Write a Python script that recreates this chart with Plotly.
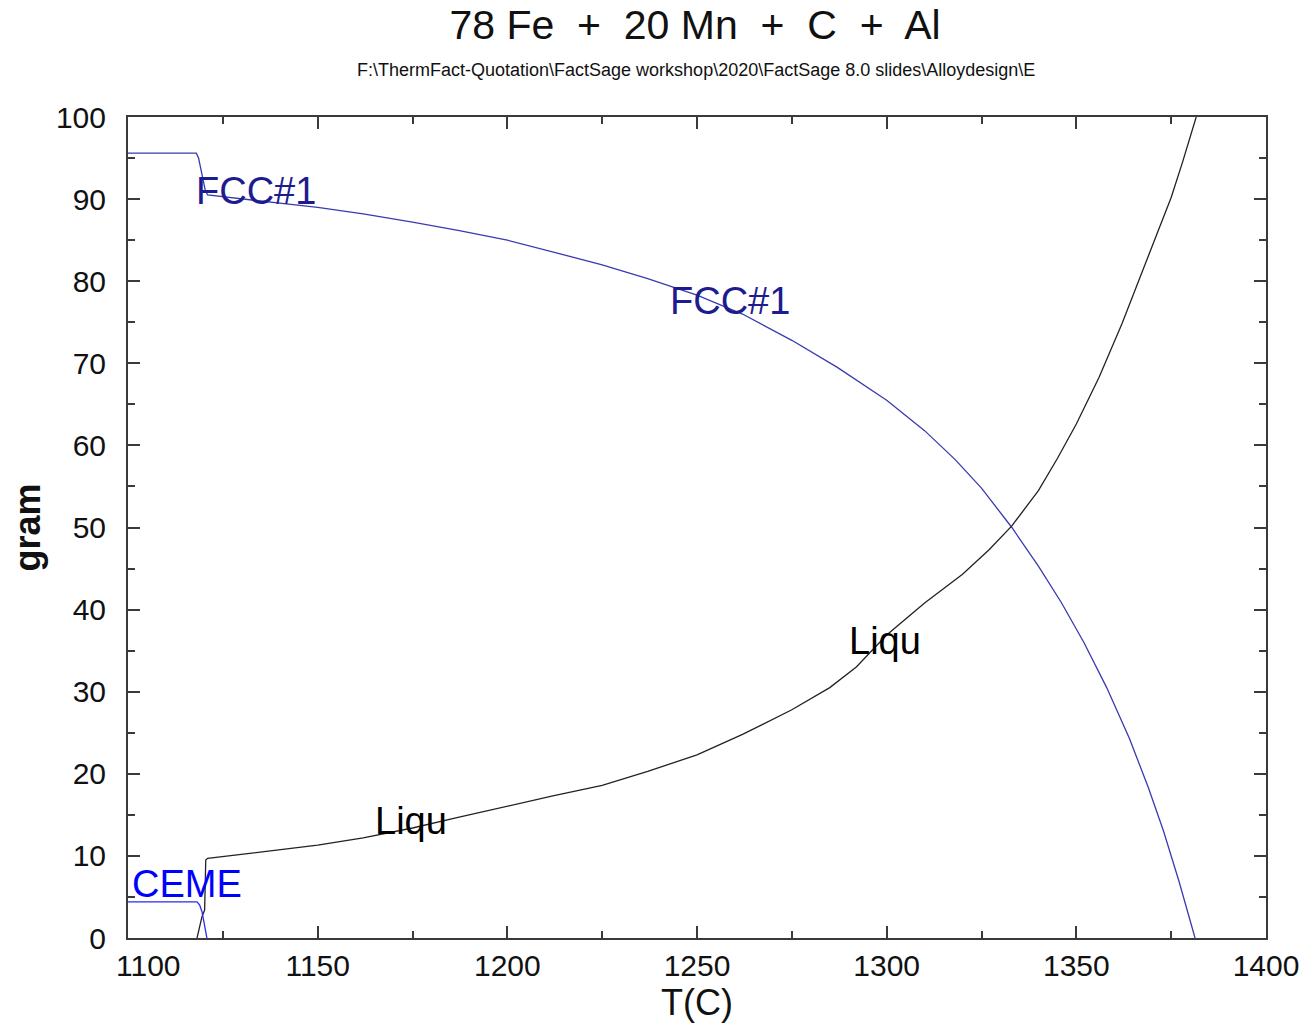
import plotly.graph_objects as go

# ---- data ----
fcc_T = [1100, 1118.0, 1118.6, 1119.2, 1119.8, 1120.4, 1121, 1130, 1140, 1150, 1162, 1175,
         1187, 1200, 1212, 1225, 1237, 1250, 1262, 1275, 1287, 1300, 1310, 1318, 1325,
         1333, 1340, 1346, 1352, 1358, 1364, 1369, 1373, 1377, 1381.3]
fcc_g = [95.6, 95.6, 95.0, 93.8, 92.2, 91.0, 90.5, 90.0, 89.5, 89.0, 88.2, 87.2,
         86.2, 85.0, 83.6, 82.0, 80.3, 78.3, 76.0, 72.8, 69.5, 65.5, 61.8, 58.3, 54.8,
         50.0, 45.3, 40.9, 36.0, 30.5, 24.3, 18.3, 13.0, 7.0, 0.0]

liq_T = [1118.2, 1119.5, 1120.2, 1120.5, 1121, 1135, 1150, 1162, 1175, 1187, 1200, 1212,
         1225, 1237, 1250, 1262, 1275, 1285, 1292, 1300, 1310, 1320, 1327, 1333, 1340,
         1345, 1350, 1356, 1362, 1368, 1372, 1375, 1378, 1381.6]
liq_g = [0.0, 2.6, 3.4, 9.5, 9.7, 10.5, 11.3, 12.2, 13.4, 14.7, 16.1, 17.3,
         18.6, 20.3, 22.3, 24.8, 27.8, 30.5, 33.0, 36.9, 40.8, 44.3, 47.3, 50.2, 54.5,
         58.4, 62.6, 68.3, 74.8, 81.8, 86.6, 90.2, 94.5, 100.0]

ceme_T = [1100, 1118.2, 1118.9, 1119.5, 1120.0, 1120.4, 1120.8]
ceme_g = [4.4, 4.4, 4.0, 3.2, 2.0, 0.9, 0.0]

x_ticks = [1100, 1150, 1200, 1250, 1300, 1350, 1400]
x_ticktext = ["", "1150", "1200", "1250", "1300", "1350", "1400"]
x_first_label = "1100"   # drawn shifted right as in the reference
y_ticks = [0, 10, 20, 30, 40, 50, 60, 70, 80, 90, 100]

labels = [  # text, T, gram, colour
    ("FCC#1", 1117.4, 91.0, "#1c1c8e"),
    ("FCC#1", 1242.3, 77.6, "#1c1c8e"),
    ("Liqu", 1289.5, 36.2, "#000000"),
    ("Liqu", 1164.6, 14.3, "#000000"),
    ("CEME", 1100.4, 6.6, "#0000ff"),
]

title = "78 Fe\u00a0 +\u00a0 20 Mn\u00a0 +\u00a0 C\u00a0 +\u00a0 Al"
subtitle = r"F:\ThermFact-Quotation\FactSage workshop\2020\FactSage 8.0 slides\Alloydesign\E"

FONT = "Liberation Sans, Arial, sans-serif"

fig = go.Figure()
fig.add_trace(go.Scatter(x=fcc_T, y=fcc_g, mode="lines", line=dict(color="#3a3ab0", width=1.3),
                         hoverinfo="skip"))
fig.add_trace(go.Scatter(x=liq_T, y=liq_g, mode="lines", line=dict(color="#222222", width=1.3),
                         hoverinfo="skip"))
fig.add_trace(go.Scatter(x=ceme_T, y=ceme_g, mode="lines", line=dict(color="#2a2aee", width=1.3),
                         hoverinfo="skip"))

for txt, t, g, c in labels:
    fig.add_annotation(x=t, y=g, xref="x", yref="y", text=txt, showarrow=False,
                       xanchor="left", yanchor="middle",
                       font=dict(family=FONT, size=38, color=c))

fig.add_annotation(text=x_first_label, x=x_ticks[0], xref="x", xanchor="center", xshift=20,
                   y=0, yref="paper", yanchor="middle", yshift=-27, showarrow=False,
                   font=dict(family=FONT, size=30, color="#111111"))

fig.add_annotation(text=subtitle, x=(696 - 128) / 1138, xref="paper", xanchor="center",
                   y=(938 - 70) / 821, yref="paper", yanchor="middle", showarrow=False,
                   font=dict(family=FONT, size=18, color="#111111"))

axis_common = dict(showline=True, linecolor="#3a3a3a", linewidth=2, mirror="ticks",
                   ticks="inside", tickcolor="#3a3a3a", tickwidth=2, ticklen=12,
                   showgrid=False, zeroline=False, automargin=False,
                   tickfont=dict(family=FONT, size=30, color="#111111"))

fig.update_layout(
    width=1304, height=1029,
    margin=dict(l=128, r=38, t=117, b=91),
    paper_bgcolor="white", plot_bgcolor="white",
    showlegend=False,
    title=dict(text=title, x=0.533, xanchor="center", y=1 - 25 / 1029, yanchor="middle",
               font=dict(family=FONT, size=41, color="#111111")),
    xaxis=dict(range=[1100, 1400], tickvals=x_ticks, ticktext=x_ticktext,
               minor=dict(dtick=25, ticks="inside", ticklen=7, tickcolor="#3a3a3a", tickwidth=2),
               title=dict(text="T(C)", font=dict(family=FONT, size=36, color="#111111"), standoff=2),
               **axis_common),
    yaxis=dict(range=[0, 100], tickvals=y_ticks,
               minor=dict(dtick=5, ticks="inside", ticklen=7, tickcolor="#3a3a3a", tickwidth=2),
               ticklabelstandoff=14,
               title=dict(text="<b>gram</b>", font=dict(family=FONT, size=36, color="#111111"), standoff=4),
               **axis_common),
)

fig.write_html("out.html")
